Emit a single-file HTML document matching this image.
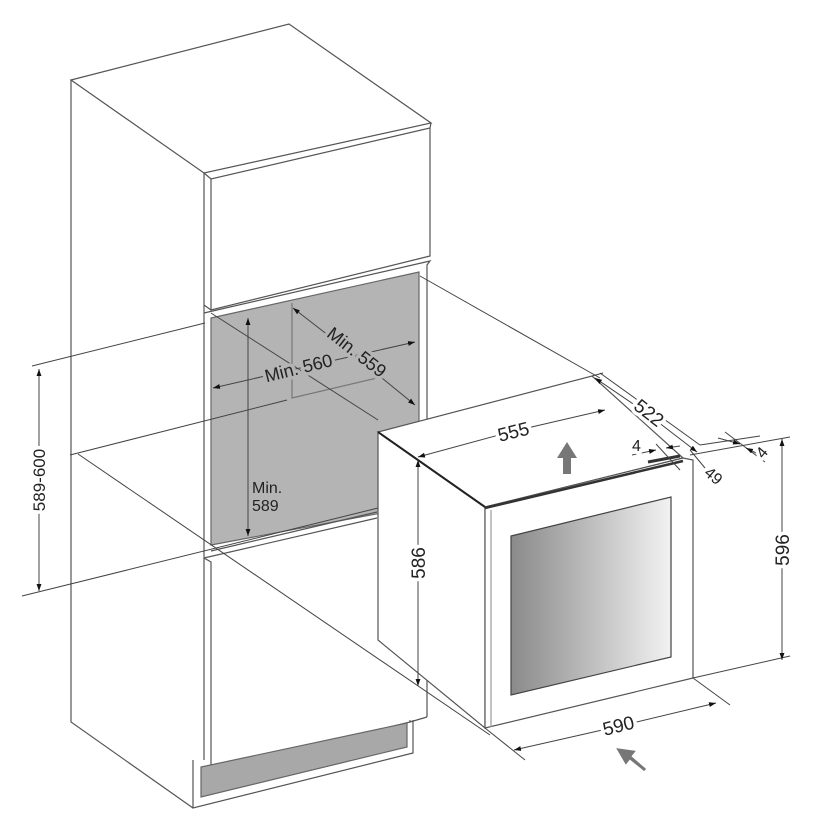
<!DOCTYPE html>
<html><head><meta charset="utf-8"><style>
html,body{margin:0;padding:0;background:#fff;}
svg{display:block;}
text{font-family:"Liberation Sans",sans-serif;fill:#222;stroke:#fff;stroke-width:7px;paint-order:stroke;stroke-linejoin:round;}
text.n{stroke:#b4b4b4;}
</style></head><body>
<svg width="825" height="824" viewBox="0 0 825 824" xmlns="http://www.w3.org/2000/svg">
<defs>
<marker id="a" viewBox="0 0 10 10" refX="10" refY="5" markerWidth="7" markerHeight="7" orient="auto-start-reverse"><path d="M0,1.5 L10,5 L0,8.5 z" fill="#111"/></marker>
<linearGradient id="g" x1="0" y1="0" x2="1" y2="0"><stop offset="0" stop-color="#8a8a8a"/><stop offset="1" stop-color="#f2f2f2"/></linearGradient>
</defs>
<g fill="none" stroke="#555" stroke-width="1.2">
<path d="M71,80 L289,24 L431,123 L204,173 Z" fill="#fff"/>
<path d="M71,80 L71,722 L193,808"/>
<path d="M204,173 L204,760"/>
<path d="M204,173 L211,179 L430,128 L431,123"/>
<path d="M211,179 L211,310 L430,256 L430,128"/>
<path d="M204,305 L211,310"/>
<path d="M204,313 L430,261 L427,265 L427,717"/>
<path d="M211,318 L419,272 L419,506 L211,545 Z" fill="#b4b4b4" stroke="#666"/>
<path d="M292,303 L292,398 L377,378" stroke="#777"/>
<path d="M211,551 L377,512 M204,558 L377,518" />
<path d="M204,558 L211,562 L211,771 L410,722 L410,720"/>
<path d="M201,767 L201,797 L407,747 L407,723 Z" fill="#a8a8a8" stroke="#666"/>
<path d="M193,760 L193,808 L413,753 L413,720"/>
<path d="M410,722 L427,717"/>
</g>
<g stroke="#444" stroke-width="1" fill="none">
<line x1="32" y1="366" x2="205" y2="323"/>
<line x1="22" y1="596" x2="378" y2="508"/>
<line x1="70" y1="455" x2="287" y2="400"/>
<line x1="78" y1="454" x2="490" y2="735"/>
<line x1="211" y1="313" x2="378" y2="420"/>
<line x1="420" y1="276" x2="600" y2="378"/>
<line x1="39" y1="480" x2="39" y2="369" marker-end="url(#a)"/>
<line x1="39" y1="480" x2="39" y2="591" marker-end="url(#a)"/>
<line x1="248" y1="430" x2="248" y2="318" marker-end="url(#a)"/>
<line x1="248" y1="430" x2="248" y2="536" marker-end="url(#a)"/>
<line x1="300" y1="368" x2="213" y2="388" marker-end="url(#a)"/>
<line x1="300" y1="368" x2="415" y2="342" marker-end="url(#a)"/>
<line x1="355" y1="356" x2="293" y2="308" marker-end="url(#a)"/>
<line x1="355" y1="356" x2="415" y2="405" marker-end="url(#a)"/>
</g>
<text font-size="17" transform="translate(45,480) rotate(-90)" text-anchor="middle">589-600</text>
<text class="n" font-size="18" transform="translate(300,374) rotate(-14)" text-anchor="middle">Min. 560</text>
<text class="n" font-size="18" transform="translate(353,357) rotate(38)" text-anchor="middle">Min. 559</text>
<text class="n" x="252" y="493" font-size="16">Min.</text>
<text class="n" x="252" y="511" font-size="16">589</text>
<g stroke="#555" stroke-width="1.2">
<path d="M378,432 L592,376 L683,458 L485,507 Z" fill="#fff"/>
<path d="M378,432 L378,640 L485,728 L485,507 Z" fill="#fff"/>
<path d="M485,507 L683,458 L693,460 L693,678 L485,728 Z" fill="#fff"/>
<path d="M491,510 L491,727" stroke="#999"/>
<path d="M378,432 L485,507" stroke="#222" stroke-width="2"/>
<path d="M485,508 L683,461" stroke="#333" stroke-width="2.5"/>
<path d="M648,462 L680,456" stroke="#333" stroke-width="3"/>
<path d="M511,536 L671,497 L671,657 L511,695 Z" fill="url(#g)" stroke="#444"/>
</g>
<g stroke="#444" stroke-width="1" fill="none">
<line x1="592" y1="376" x2="603" y2="373"/>
<line x1="600" y1="373" x2="700" y2="445"/>
<line x1="693" y1="678" x2="730" y2="705"/>
<line x1="485" y1="728" x2="525" y2="760"/>
<line x1="693" y1="678" x2="790" y2="656"/>
<line x1="690" y1="455" x2="790" y2="437"/>
<line x1="510" y1="432" x2="418" y2="457" marker-end="url(#a)"/>
<line x1="510" y1="432" x2="605" y2="410" marker-end="url(#a)"/>
<line x1="645" y1="412" x2="595" y2="378" marker-end="url(#a)"/>
<line x1="645" y1="412" x2="697" y2="452" marker-end="url(#a)"/>
<line x1="418" y1="560" x2="418" y2="460" marker-end="url(#a)"/>
<line x1="418" y1="560" x2="418" y2="686" marker-end="url(#a)"/>
<line x1="782" y1="550" x2="782" y2="439" marker-end="url(#a)"/>
<line x1="782" y1="550" x2="782" y2="660" marker-end="url(#a)"/>
<line x1="620" y1="726" x2="514" y2="750" marker-end="url(#a)"/>
<line x1="620" y1="726" x2="716" y2="703" marker-end="url(#a)"/>
<line x1="632" y1="455" x2="656" y2="450" marker-end="url(#a)"/>
<line x1="680" y1="446" x2="666" y2="448" marker-end="url(#a)"/>
<line x1="656" y1="444" x2="680" y2="470"/>
<line x1="690" y1="450" x2="705" y2="468"/>
<line x1="725" y1="432" x2="765" y2="462"/>
<line x1="700" y1="445" x2="760" y2="436"/>
<line x1="718" y1="438" x2="740" y2="444" marker-end="url(#a)"/>
<line x1="760" y1="455" x2="746" y2="448" marker-end="url(#a)"/>
</g>
<text font-size="19" transform="translate(515,438) rotate(-14)" text-anchor="middle">555</text>
<text font-size="19" transform="translate(645,418) rotate(38)" text-anchor="middle">522</text>
<text font-size="16" x="632" y="451">4</text>
<text font-size="16" transform="translate(710,480) rotate(40)" text-anchor="middle">49</text>
<text font-size="16" transform="translate(766,456) rotate(-50)" text-anchor="middle">4</text>
<text font-size="19" transform="translate(425,563) rotate(-90)" text-anchor="middle">586</text>
<text font-size="19" transform="translate(789,550) rotate(-90)" text-anchor="middle">596</text>
<text font-size="19" transform="translate(620,732) rotate(-14)" text-anchor="middle">590</text>
<path d="M563,474 L563,458 L557,458 L567,442 L577,458 L571,458 L571,474 Z" fill="#777"/>
<path d="M645,770 L630,757 L626,762 L619,750 L633,752 L629,757 L644,769 Z" fill="#777" stroke="#777" stroke-width="3"/>
</svg>
</body></html>
